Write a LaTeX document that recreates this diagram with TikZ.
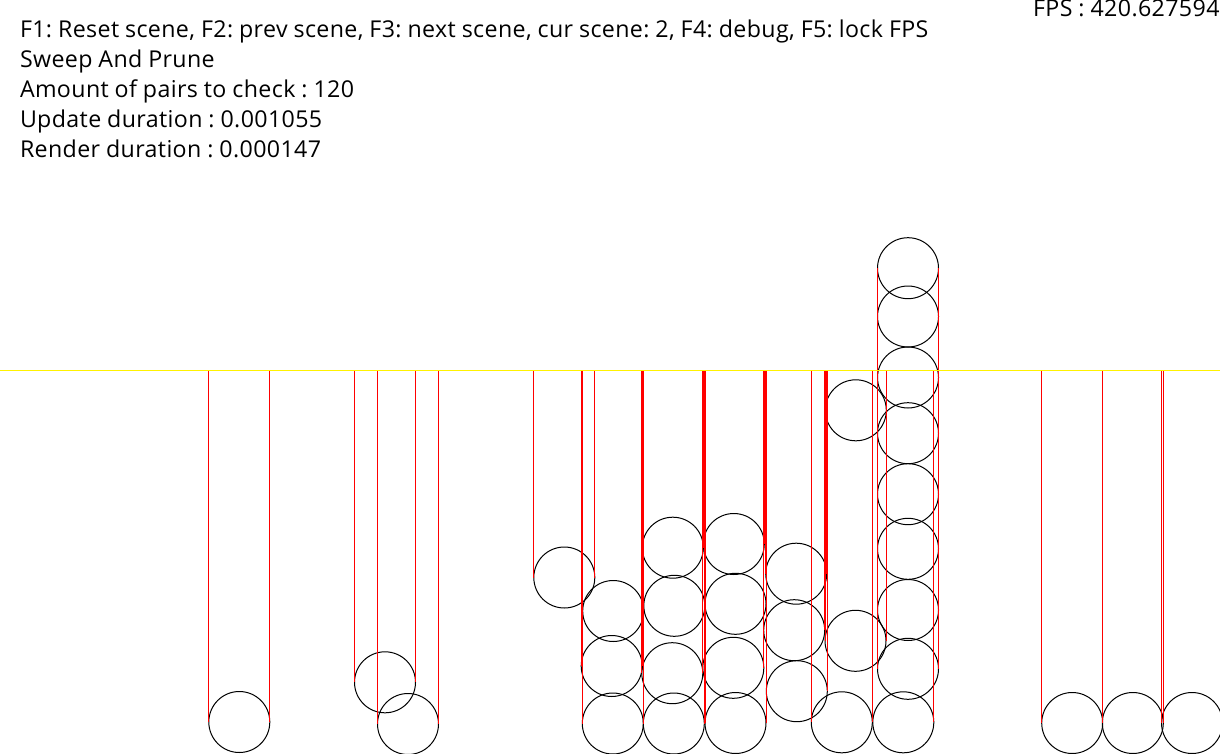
\documentclass[tikz,border=0pt]{standalone}
\usepackage{fontspec}
\setmainfont{Open Sans}[LetterSpace=1.6,WordSpace=0.93]
\frenchspacing
\begin{document}
\begin{tikzpicture}[x=1pt,y=-1pt,
  hud/.style={inner sep=0pt,outer sep=0pt,font=\fontsize{23.2}{30}\selectfont\frenchspacing,text=black},
  ball/.style={draw=black,line width=1pt},
  axis/.style={draw=red,line width=1pt},
  sweepline/.style={draw=yellow,line width=1pt}]
\useasboundingbox[fill=white] (0,0) rectangle (1220,754);
\def\R{30.5}
\def\Y{370.3}
% circles
\foreach \cx/\cy in {239.3/722, 385/682.3, 408/724,
  564.3/577.5, 613.2/611, 611.7/666, 612.8/723.5,
  672.8/547.7, 674.3/605.8, 672.3/673.2, 673.8/723.5,
  733.8/544, 735.5/603.8, 733.3/667.8, 735.5/723,
  796.2/573.7, 794.2/630.2, 796.8/691.2, 841.8/722.3,
  855.8/410.3, 855.5/640.8,
  908/268.2, 908/316.5, 908/377.5, 908/433.2, 908/494.2, 908/548.8, 908/610, 908/668.8,
  903.3/722.3, 1072.2/723, 1132.8/723, 1192/723}
{
  \draw[ball] (\cx,\cy) circle (\R);
}
% projection lines
\foreach \cx/\cy in {239.3/722, 385/682.3, 408/724,
  564.3/577.5, 613.2/611, 611.7/666, 612.8/723.5,
  672.8/547.7, 674.3/605.8, 672.3/673.2, 673.8/723.5,
  733.8/544, 735.5/603.8, 733.3/667.8, 735.5/723,
  796.2/573.7, 794.2/630.2, 796.8/691.2, 841.8/722.3,
  855.8/410.3, 855.5/640.8,
  908/268.2, 908/316.5, 908/377.5, 908/433.2, 908/494.2, 908/548.8, 908/610, 908/668.8,
  903.3/722.3, 1072.2/723, 1132.8/723, 1192/723}
{
  \coordinate (la) at ({\cx-\R},\Y);
  \coordinate (lb) at ({\cx-\R},\cy);
  \coordinate (ra) at ({\cx+\R},\Y);
  \coordinate (rb) at ({\cx+\R},\cy);
  \draw[axis] (la) -- (lb);
  \draw[axis] (ra) -- (rb);
}
% sweep axis
\coordinate (axL) at (0,\Y);
\coordinate (axR) at (1220,\Y);
\draw[sweepline] (axL) -- (axR);
% HUD text
\node[hud,anchor=base west] (t1) at (20,37.3) {F1: Reset scene, F2: prev scene, F3: next scene, cur scene: 2, F4: debug, F5: lock FPS};
\node[hud,anchor=base west] (t2) at (20,67.3) {Sweep And Prune};
\node[hud,anchor=base west] (t3) at (20,97.3) {Amount of pairs to check : 120};
\node[hud,anchor=base west] (t4) at (20,127.3) {Update duration : 0.001055};
\node[hud,anchor=base west] (t5) at (20,157.3) {Render duration : 0.000147};
\node[hud,anchor=base east] (fps) at (1219.5,16.7) {FPS : 420.627594};
\end{tikzpicture}
\end{document}
